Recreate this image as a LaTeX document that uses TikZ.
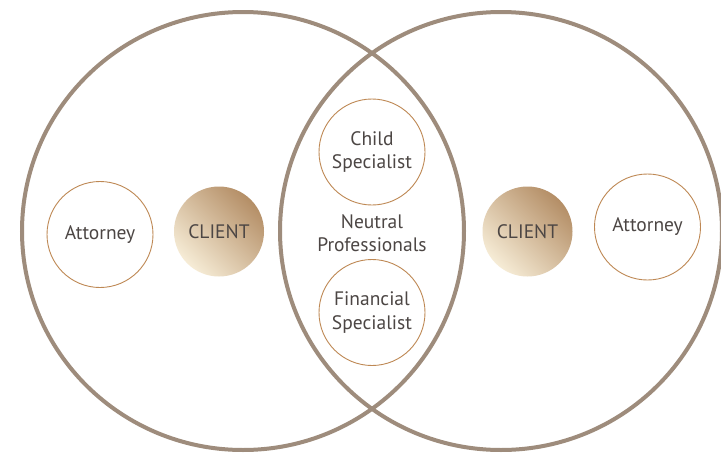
\documentclass[tikz,border=0pt]{standalone}
\usepackage{fontspec}
\setmainfont{PT Sans}
\usetikzlibrary{shapes.geometric}

\definecolor{ringgrey}{RGB}{158,140,124}
\definecolor{rimbrown}{RGB}{190,136,84}
\definecolor{inkgrey}{RGB}{76,70,68}
\definecolor{clientdark}{RGB}{180,142,102}
\definecolor{clientlight}{RGB}{246,236,214}

\begin{document}
\begin{tikzpicture}[x=1pt, y=-1pt,
	every node/.style={text=inkgrey, align=center, inner sep=0pt,
		font=\fontsize{19.5}{23.5}\selectfont},
	ring/.style={ellipse, draw=ringgrey, line width=4pt,
		minimum width=442pt, minimum height=438pt},
	party/.style={circle, draw=rimbrown, line width=0.9pt, minimum size=106pt},
	client/.style={circle, minimum size=90pt, shading=axis,
		top color=clientdark, bottom color=clientlight, shading angle=-45}]
	\useasboundingbox[fill=white] (0,0) rectangle (721,453);
	% the two overlapping circles
	\node[ring] (leftring)  at (243,231) {};
	\node[ring] (rightring) at (501,231) {};
	% left side
	\node[party]  (attyL)   at (100,234.5) {Attorney};
	\node[client] (clientL) at (219,231.5) {CLIENT};
	% shared middle
	\node[party] (child)   at (372,152)   {Child\\Specialist};
	\node        (neutral) at (372,233)   {Neutral\\Professionals};
	\node[party] (finance) at (372,312.5) {Financial\\Specialist};
	% right side
	\node[client] (clientR) at (527.5,231.5) {CLIENT};
	\node[party]  (attyR)   at (647.5,227)   {Attorney};
\end{tikzpicture}
\end{document}
